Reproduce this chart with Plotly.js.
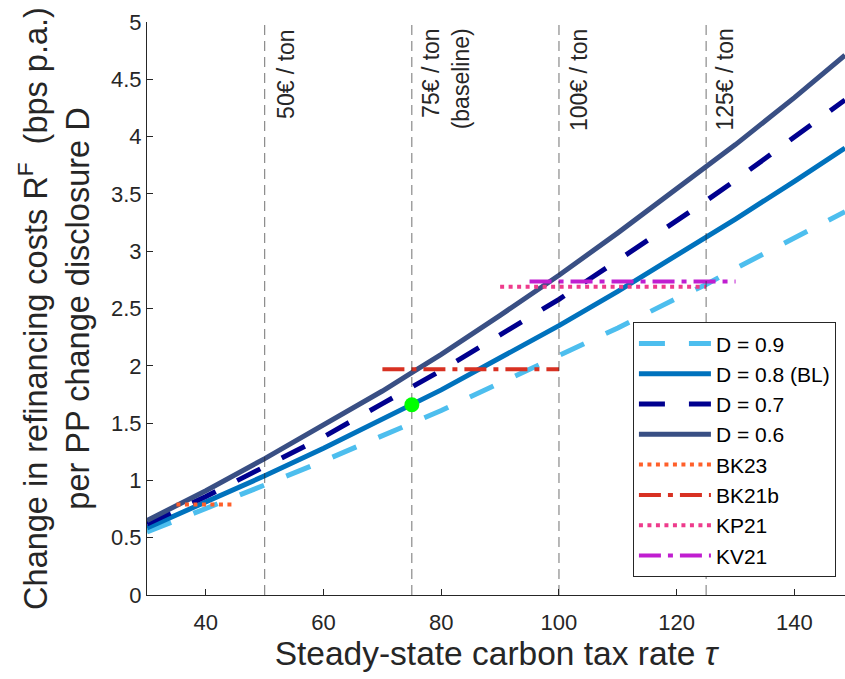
<!DOCTYPE html>
<html>
<head>
<meta charset="utf-8">
<script src="https://cdn.plot.ly/plotly-3.0.1.min.js"></script>
<style>html,body{margin:0;padding:0;background:#fff;overflow:hidden}#chart{width:845px;height:679px}</style>
</head>
<body>
<div id="chart"></div>
<script>
// Carbon tax rate (x) sample points
const tax = [30, 40, 50, 60, 70, 75, 80, 90, 100, 110, 120, 125, 130, 140, 148.6];
// Change in refinancing costs for each disclosure level
const d09 = [0.55, 0.75, 0.96, 1.17, 1.39, 1.50, 1.61, 1.85, 2.09, 2.33, 2.59, 2.71, 2.85, 3.11, 3.345];
const d08 = [0.585, 0.81, 1.04, 1.28, 1.53, 1.66, 1.79, 2.07, 2.35, 2.65, 2.96, 3.12, 3.28, 3.61, 3.90];
const d07 = [0.62, 0.86, 1.12, 1.38, 1.67, 1.81, 1.96, 2.27, 2.58, 2.92, 3.26, 3.44, 3.62, 3.99, 4.32];
const d06 = [0.65, 0.91, 1.19, 1.48, 1.78, 1.94, 2.10, 2.44, 2.79, 3.16, 3.54, 3.73, 3.93, 4.34, 4.71];
const curveNames = ['D = 0.9', 'D = 0.8 (BL)', 'D = 0.7', 'D = 0.6'];

// Empirical estimates: [x start, x end], level
const bk23X = [35, 45];   const bk23Y = [0.79, 0.79];
const bk21bX = [70, 100]; const bk21bY = [1.97, 1.97];
const kp21X = [90, 125];  const kp21Y = [2.69, 2.69];
const kv21X = [95, 130];  const kv21Y = [2.735, 2.735];
const refNames = ['BK23', 'BK21b', 'KP21', 'KV21'];

// Baseline point
const baseX = [75]; const baseY = [1.66];

// Vertical reference tax levels and their labels
const vlines = [50, 75, 100, 125];
const vlabels = ['50€ / ton', '75€ / ton<br>(baseline)', '100€ / ton', '125€ / ton'];
const vlabelX = [53.5, 80.85, 103.3, 128.2];

const xTicks = [40, 60, 80, 100, 120, 140];
const yTicks = [0, 0.5, 1, 1.5, 2, 2.5, 3, 3.5, 4, 4.5, 5];

const FONT = 'Liberation Sans, Arial, Helvetica, sans-serif';
const INK = '#262626';

const traces = [
  {x: tax, y: d09, name: curveNames[0], mode: 'lines', line: {color: '#4DBEEE', width: 5, dash: '26px,24px'}},
  {x: tax, y: d08, name: curveNames[1], mode: 'lines', line: {color: '#0072BD', width: 5}},
  {x: tax, y: d07, name: curveNames[2], mode: 'lines', line: {color: '#00008F', width: 5, dash: '26px,24px'}},
  {x: tax, y: d06, name: curveNames[3], mode: 'lines', line: {color: '#394F84', width: 5}},
  {x: bk23X, y: bk23Y, name: refNames[0], mode: 'lines', line: {color: '#FF5F2A', width: 4, dash: '4px,4.5px'}},
  {x: bk21bX, y: bk21bY, name: refNames[1], mode: 'lines', line: {color: '#D83122', width: 4, dash: '22px,7px,5px,7px'}},
  {x: kp21X, y: kp21Y, name: refNames[2], mode: 'lines', line: {color: '#EE3B8C', width: 4, dash: '4px,4.5px'}},
  {x: kv21X, y: kv21Y, name: refNames[3], mode: 'lines', line: {color: '#C01ED0', width: 4, dash: '22px,7px,5px,7px'}}
];
vlines.forEach(v => {
  traces.push({x: [v, v], y: [0, 5], mode: 'lines', showlegend: false, hoverinfo: 'skip',
    line: {color: 'rgba(38,38,38,0.65)', width: 1, dash: '10px,6px'}});
});
traces.push({x: baseX, y: baseY, mode: 'markers', showlegend: false,
  marker: {color: '#00FF00', size: 15, line: {width: 0}}});

const annotations = vlabels.map((t, i) => ({
  x: vlabelX[i], y: 4.96, xref: 'x', yref: 'y', text: t, showarrow: false,
  textangle: -90, xanchor: 'center', yanchor: 'top', align: 'right',
  font: {family: FONT, size: 23, color: INK}
}));

const layout = {
  width: 845, height: 679,
  margin: {l: 147, r: 0, t: 22, b: 84, pad: 0},
  paper_bgcolor: '#fff', plot_bgcolor: '#fff',
  font: {family: FONT, color: INK},
  showlegend: true,
  xaxis: {
    range: [30, 148.6], tickvals: xTicks, ticks: 'inside', ticklen: 6, tickcolor: INK,
    showline: true, linecolor: INK, linewidth: 1, showgrid: false, zeroline: false,
    tickfont: {family: FONT, size: 22, color: INK}, ticklabelstandoff: 8,
    title: {text: 'Steady-state carbon tax rate <i>τ</i>', font: {family: FONT, size: 33.5, color: INK}, standoff: 4}
  },
  yaxis: {
    range: [0, 5], tickvals: yTicks, ticks: 'inside', ticklen: 6, tickcolor: INK,
    showline: true, linecolor: INK, linewidth: 1, showgrid: false, zeroline: false,
    tickfont: {family: FONT, size: 22, color: INK},
    title: {text: 'Change in refinancing costs R<sup>F</sup>  (bps p.a.)<br>per PP change disclosure D', font: {family: FONT, size: 32.5, color: INK}, standoff: 11}
  },
  legend: {
    x: 0.987, y: 0.031, xanchor: 'right', yanchor: 'bottom',
    bgcolor: '#fff', bordercolor: INK, borderwidth: 1,
    font: {family: FONT, size: 21, color: '#000'},
    itemwidth: 72, tracegroupgap: 0
  },
  annotations: annotations
};

Plotly.newPlot('chart', traces, layout, {displayModeBar: false, staticPlot: true});
</script>
</body>
</html>
